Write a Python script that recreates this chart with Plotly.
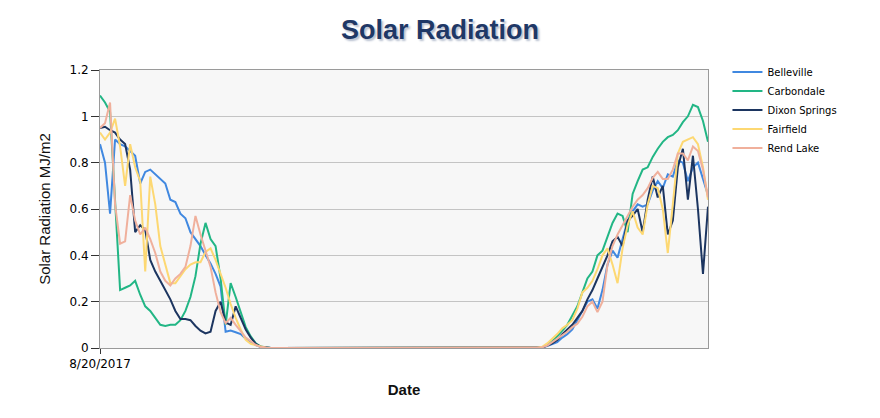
import plotly.graph_objects as go

# x positions are sample indices along the date axis (first sample = 8/20/2017)
tick_labels = ["8/20/2017"]
series_names = ["Belleville", "Carbondale", "Dixon Springs", "Fairfield", "Rend Lake"]

belleville_pm = [0.88, 0.80, 0.58, 0.90, 0.88, 0.87, 0.85, 0.83, 0.71, 0.76, 0.77, 0.75, 0.73, 0.71, 0.64, 0.63, 0.58,
                 0.56, 0.50, 0.47, 0.44, 0.40, 0.365, 0.32, 0.265, 0.07, 0.075, 0.068, 0.06, 0.04, 0.025, 0.012, 0.004, 0.001]
carbondale_pm = [1.09, 1.06, 1.02, 0.62, 0.25, 0.26, 0.27, 0.29, 0.23, 0.18, 0.16, 0.13, 0.10, 0.095, 0.10, 0.10, 0.12,
                 0.16, 0.22, 0.31, 0.45, 0.54, 0.47, 0.44, 0.30, 0.10, 0.28, 0.22, 0.15, 0.09, 0.05, 0.02, 0.006, 0.002]
dixon_pm = [0.95, 0.955, 0.94, 0.93, 0.90, 0.88, 0.77, 0.50, 0.53, 0.51, 0.38, 0.33, 0.29, 0.25, 0.21, 0.16, 0.125,
            0.125, 0.12, 0.095, 0.075, 0.063, 0.07, 0.16, 0.20, 0.11, 0.10, 0.18, 0.13, 0.08, 0.045, 0.018, 0.005, 0.001]
fairfield_pm = [0.93, 0.90, 0.93, 0.99, 0.87, 0.70, 0.88, 0.78, 0.72, 0.33, 0.74, 0.62, 0.44, 0.36, 0.28, 0.28, 0.31,
                0.34, 0.36, 0.37, 0.37, 0.415, 0.43, 0.38, 0.32, 0.26, 0.19, 0.13, 0.08, 0.035, 0.018, 0.012, 0.005, 0.001]
rend_pm = [0.95, 0.97, 1.06, 0.62, 0.45, 0.46, 0.66, 0.55, 0.49, 0.52, 0.47, 0.41, 0.33, 0.29, 0.27, 0.30, 0.32,
           0.35, 0.44, 0.57, 0.49, 0.42, 0.35, 0.24, 0.155, 0.107, 0.13, 0.10, 0.07, 0.045, 0.03, 0.013, 0.004, 0.001]

night = [0, 0, 0, 0, 0, 0, 0, 0, 0, 0, 0, 0, 0, 0, 0, 0, 0, 0, 0, 0, 0, 0, 0, 0, 0, 0, 0,
         0, 0, 0, 0, 0, 0, 0, 0, 0, 0, 0, 0, 0, 0, 0, 0, 0, 0, 0, 0, 0, 0, 0, 0, 0, 0]

belleville_am = [0, 0.003, 0.008, 0.015, 0.025, 0.045, 0.06, 0.08, 0.12, 0.16, 0.20, 0.21, 0.17, 0.25, 0.36, 0.42, 0.39,
                 0.47, 0.55, 0.59, 0.62, 0.61, 0.62, 0.68, 0.72, 0.69, 0.75, 0.74, 0.81, 0.80, 0.72, 0.78, 0.80, 0.73, 0.66]
carbondale_am = [0, 0.003, 0.015, 0.03, 0.05, 0.075, 0.10, 0.14, 0.18, 0.24, 0.30, 0.33, 0.40, 0.42, 0.48, 0.54, 0.58,
                 0.57, 0.50, 0.665, 0.72, 0.77, 0.78, 0.825, 0.86, 0.89, 0.91, 0.92, 0.94, 0.975, 1.00, 1.05, 1.04, 0.98, 0.89]
dixon_am = [0, 0.002, 0.01, 0.02, 0.035, 0.06, 0.08, 0.10, 0.13, 0.16, 0.21, 0.25, 0.30, 0.35, 0.40, 0.46, 0.48,
            0.44, 0.55, 0.57, 0.60, 0.50, 0.64, 0.74, 0.65, 0.70, 0.49, 0.55, 0.78, 0.86, 0.64, 0.83, 0.60, 0.32, 0.61]
fairfield_am = [0.001, 0.005, 0.02, 0.04, 0.06, 0.085, 0.10, 0.12, 0.17, 0.24, 0.26, 0.29, 0.34, 0.40, 0.43, 0.36, 0.28,
                0.43, 0.53, 0.59, 0.52, 0.49, 0.62, 0.70, 0.69, 0.60, 0.41, 0.62, 0.84, 0.89, 0.90, 0.91, 0.88, 0.78, 0.64]
rend_am = [0, 0.003, 0.01, 0.025, 0.04, 0.055, 0.07, 0.09, 0.105, 0.135, 0.18, 0.20, 0.155, 0.20, 0.36, 0.44, 0.49,
           0.53, 0.57, 0.61, 0.64, 0.66, 0.69, 0.735, 0.76, 0.73, 0.73, 0.77, 0.84, 0.84, 0.81, 0.87, 0.85, 0.77, 0.65]

series = {
    "Belleville": belleville_pm + night + belleville_am,
    "Carbondale": carbondale_pm + night + carbondale_am,
    "Dixon Springs": dixon_pm + night + dixon_am,
    "Fairfield": fairfield_pm + night + fairfield_am,
    "Rend Lake": rend_pm + night + rend_am,
}
colors = {
    "Belleville": "#4088e0",
    "Carbondale": "#22b685",
    "Dixon Springs": "#1c3560",
    "Fairfield": "#fdd872",
    "Rend Lake": "#f0b09c",
}

n = len(series["Belleville"])
x = list(range(n))

fig = go.Figure()
for name in series_names:
    fig.add_trace(go.Scatter(x=x, y=series[name], mode="lines", name=name,
                             line=dict(color=colors[name], width=2)))

fig.update_layout(
    width=880, height=418,
    margin=dict(l=100, r=172, t=70, b=70),
    paper_bgcolor="white",
    plot_bgcolor="#f7f7f7",
    title=dict(text="<b>Solar Radiation</b>", x=0.5, xanchor="center", y=0.93, yanchor="middle",
               font=dict(family="Liberation Sans, Arial", size=27, color="#1f3866",
                         shadow="2px 2px 2px #b8c0d0")),
    legend=dict(x=1.032, y=1.045, xanchor="left", yanchor="top",
                font=dict(family="DejaVu Sans", size=10, color="#000"),
                bgcolor="rgba(0,0,0,0)", tracegroupgap=0),
    showlegend=True,
)
fig.update_xaxes(
    range=[0, n - 1], tickvals=[0], ticktext=tick_labels,
    showgrid=False, zeroline=False,
    showline=True, linecolor="#9a9a9a", linewidth=1, mirror=True,
    ticks="outside", ticklen=5, tickcolor="#333",
    tickfont=dict(family="DejaVu Sans", size=12, color="#000"),
    title=dict(text="<b>Date</b>", standoff=14,
               font=dict(family="Liberation Sans, Arial", size=15, color="#111")),
)
fig.update_yaxes(
    range=[0, 1.2], dtick=0.2, tick0=0,
    showgrid=True, gridcolor="#c4c4c4", gridwidth=1, zeroline=False,
    showline=True, linecolor="#9a9a9a", linewidth=1, mirror=True,
    ticks="outside", ticklen=8, tickcolor="#333",
    tickfont=dict(family="DejaVu Sans", size=12, color="#000"),
    title=dict(text="Solar Radiation MJ/m2", standoff=15,
               font=dict(family="Liberation Sans, Arial", size=15, color="#111")),
)

fig.write_html("out.html")
